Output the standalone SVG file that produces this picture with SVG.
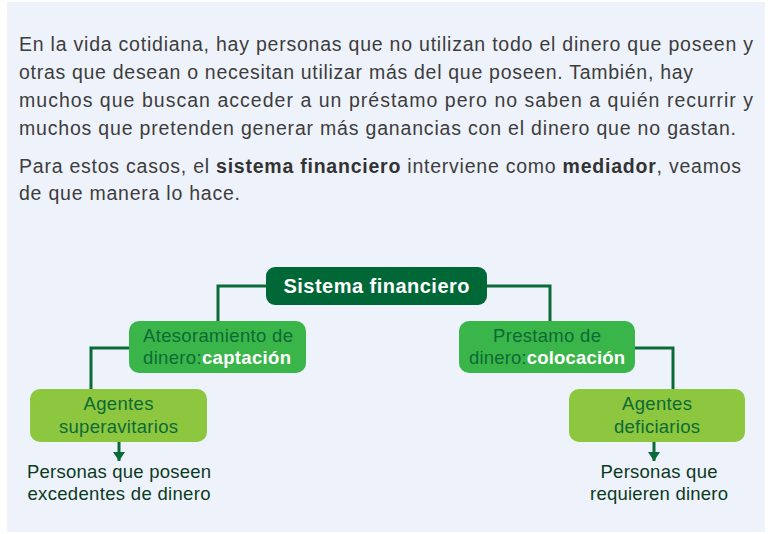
<svg xmlns="http://www.w3.org/2000/svg" width="772" height="534" viewBox="0 0 772 534">
<defs>
<style>
.para{font-family:"Liberation Sans",Arial,sans-serif;font-size:19.5px;fill:#3d3d3d}
.para .b{font-weight:bold;fill:#333}
.lbl{font-family:"Liberation Sans",Arial,sans-serif;font-size:18.5px;fill:#0c6a35;text-anchor:middle}
.lbl .w{fill:#fff;font-weight:bold}
.top{font-family:"Liberation Sans",Arial,sans-serif;font-size:20px;font-weight:bold;fill:#fff;text-anchor:middle}
.out{font-family:"Liberation Sans",Arial,sans-serif;font-size:18.5px;fill:#0b3a22;text-anchor:middle}
.conn{fill:none;stroke:#0a6a38;stroke-width:3}
</style>
<marker id="arr" markerWidth="12" markerHeight="12" refX="9" refY="6" orient="auto" markerUnits="userSpaceOnUse">
<path d="M0,0 L9,6 L0,12 Z" fill="#0a6a38"/>
</marker>
</defs>
<rect x="0" y="0" width="772" height="534" fill="#ffffff"/>
<rect x="7" y="2" width="758" height="530" fill="#eef2fb"/>
<g id="intro">
<text class="para" x="19" y="51" textLength="734" lengthAdjust="spacing">En la vida cotidiana, hay personas que no utilizan todo el dinero que poseen y</text>
<text class="para" x="19" y="79" textLength="674" lengthAdjust="spacing">otras que desean o necesitan utilizar más del que poseen. También, hay</text>
<text class="para" x="19" y="107" textLength="734" lengthAdjust="spacing">muchos que buscan acceder a un préstamo pero no saben a quién recurrir y</text>
<text class="para" x="19" y="135" textLength="717" lengthAdjust="spacing">muchos que pretenden generar más ganancias con el dinero que no gastan.</text>
<text class="para" x="19" y="173" textLength="722" lengthAdjust="spacing">Para estos casos, el <tspan class="b">sistema financiero</tspan> interviene como <tspan class="b">mediador</tspan>, veamos</text>
<text class="para" x="19" y="200" textLength="221" lengthAdjust="spacing">de que manera lo hace.</text>
</g>
<g id="connectors">
<polyline class="conn" points="267,286 218,286 218,322"/>
<polyline class="conn" points="486,286 550,286 550,322"/>
<polyline class="conn" points="130,348 91,348 91,390"/>
<polyline class="conn" points="634,348 673,348 673,390"/>
<line class="conn" x1="119" y1="442" x2="119" y2="461" marker-end="url(#arr)"/>
<line class="conn" x1="654" y1="442" x2="654" y2="461" marker-end="url(#arr)"/>
</g>
<g id="sistema">
<rect x="266" y="267" width="221" height="38" rx="9" fill="#006837"/>
<text class="top" x="376.5" y="293" textLength="186" lengthAdjust="spacing">Sistema financiero</text>
</g>
<g id="atesoramiento">
<rect x="129" y="321" width="177" height="52" rx="10" fill="#3ab54a"/>
<text class="lbl" x="218" y="342" textLength="150" lengthAdjust="spacing">Atesoramiento de</text>
<text class="lbl" x="217" y="364" textLength="148" lengthAdjust="spacing">dinero:<tspan class="w">captación</tspan></text>
</g>
<g id="prestamo">
<rect x="459" y="321" width="176" height="52" rx="10" fill="#3ab54a"/>
<text class="lbl" x="547" y="342" textLength="108" lengthAdjust="spacing">Prestamo de</text>
<text class="lbl" x="547" y="364" textLength="156" lengthAdjust="spacing">dinero:<tspan class="w">colocación</tspan></text>
</g>
<g id="superavitarios">
<rect x="30" y="389" width="177" height="53" rx="10" fill="#8dc63f"/>
<text class="lbl" x="118.5" y="410" textLength="70" lengthAdjust="spacing">Agentes</text>
<text class="lbl" x="118.5" y="433" textLength="119" lengthAdjust="spacing">superavitarios</text>
</g>
<g id="deficiarios">
<rect x="569" y="389" width="176" height="53" rx="10" fill="#8dc63f"/>
<text class="lbl" x="657" y="410" textLength="70" lengthAdjust="spacing">Agentes</text>
<text class="lbl" x="657" y="433" textLength="86" lengthAdjust="spacing">deficiarios</text>
</g>
<g id="personas-poseen">
<text class="out" x="119" y="478" textLength="184" lengthAdjust="spacing">Personas que poseen</text>
<text class="out" x="119" y="500" textLength="183" lengthAdjust="spacing">excedentes de dinero</text>
</g>
<g id="personas-requieren">
<text class="out" x="659" y="478" textLength="117" lengthAdjust="spacing">Personas que</text>
<text class="out" x="659" y="500" textLength="138" lengthAdjust="spacing">requieren dinero</text>
</g>
</svg>
